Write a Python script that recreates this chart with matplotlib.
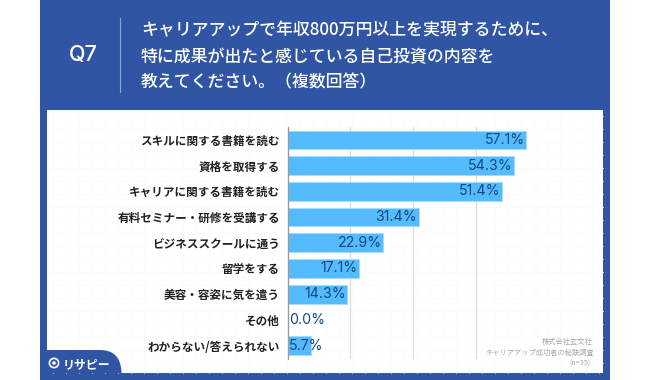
import matplotlib
matplotlib.use('Agg')
import matplotlib.pyplot as plt
from matplotlib.patches import Rectangle, PathPatch, Circle
from matplotlib.path import Path

plt.rcParams['font.family'] = ['Noto Sans CJK JP', 'DejaVu Sans']

categories = ['スキルに関する書籍を読む', '資格を取得する', 'キャリアに関する書籍を読む',
              '有料セミナー・研修を受講する', 'ビジネススクールに通う', '留学をする',
              '美容・容姿に気を遣う', 'その他', 'わからない/答えられない']
values = [57.1, 54.3, 51.4, 31.4, 22.9, 17.1, 14.3, 0.0, 5.7]
grid_ticks = [0, 15, 30, 45, 60]
title_lines = ['キャリアアップで年収800万円以上を実現するために、',
               '特に成果が出たと感じている自己投資の内容を',
               '教えてください。（複数回答）']
source_lines = ['株式会社玄文社', 'キャリアアップ成功者の秘訣調査', '(n=35)']

W, H = 650, 380
BLUE = '#2f55a4'

fig = plt.figure(figsize=(W / 100, H / 100), dpi=100, facecolor='white')

# page furniture, drawn in pixel coordinates
bg = fig.add_axes([0, 0, 1, 1], zorder=0)
bg.set_xlim(0, W)
bg.set_ylim(H, 0)
bg.axis('off')
bg.add_patch(Rectangle((40, 0), 570, 380, fc=BLUE, ec='none'))
bg.add_patch(Rectangle((47, 110), 556, 263, fc='white', ec='none'))

# faint graph paper in the white panel
for x in range(53, 603, 13):
    bg.plot([x, x], [110, 373], color='#fafafa', lw=0.5, zorder=1)
for y in range(116, 373, 13):
    bg.plot([47, 603], [y, y], color='#fafafa', lw=0.5, zorder=1)

bg.plot([119.5, 119.5], [18, 92], color='#8fa5d2', lw=0.8)
bg.text(83, 55, 'Q7', color='white', fontsize=15.5, weight='medium', ha='center', va='center',
        family=['Inter', 'DejaVu Sans'])
for i, y in enumerate([30, 57, 82]):
    bg.text(141, y, title_lines[i], color='white', fontsize=12.2, weight='medium', ha='left', va='center')

# logo tab in the bottom left corner
verts = [(47, 350), (100, 350), (121, 350), (121.5, 373), (47, 373), (47, 350)]
codes = [Path.MOVETO, Path.LINETO, Path.CURVE3, Path.CURVE3, Path.LINETO, Path.CLOSEPOLY]
bg.add_patch(PathPatch(Path(verts, codes), fc=BLUE, ec='none', zorder=2))
bg.add_patch(Circle((54, 363), 4.6, fc='none', ec='white', lw=1.2, zorder=3))
bg.add_patch(Circle((54, 363), 1.8, fc='white', ec='none', zorder=3))
bg.text(63, 365, 'リサピー', color='white', fontsize=8.6, weight='bold', ha='left', va='center', zorder=3)

for text, x, y in zip(source_lines, [593, 594, 590], [342, 353, 364]):
    bg.text(x, y, text, color='#a8a8a8', fontsize=5.2, ha='right', va='center', zorder=3)

# chart
ax = fig.add_axes([287.5 / W, 1 - 358.6 / H, (538.3 - 287.5) / W, (358.6 - 126.9) / H], zorder=1)
ax.patch.set_alpha(0)
pos = list(range(len(categories)))
ax.barh(pos, values, height=0.72, color='#54bbff', edgecolor='#a5dcff', linewidth=0.6, zorder=2)
ax.set_xlim(0, 60)
ax.set_ylim(len(categories) - 0.5, -0.5)
ax.set_xticks(grid_ticks)
ax.tick_params(axis='x', length=0, labelbottom=False)
ax.grid(axis='x', color='#dcdcdc', lw=0.9, zorder=1)
ax.set_axisbelow(True)
for s in ['top', 'right', 'bottom']:
    ax.spines[s].set_visible(False)
ax.spines['left'].set_color('#9a9a9a')
ax.spines['left'].set_linewidth(0.9)
ax.spines['left'].set_zorder(4)
ax.set_yticks(pos)
ax.set_yticklabels(categories, fontsize=8.35, weight='bold', color='#222222')
ax.tick_params(axis='y', length=0, pad=5.5)

for p, v in zip(pos, values):
    label = f'{v:.1f}%'
    x, ha = (v - 0.4, 'right') if v > 10 else (0.4, 'left')
    ax.text(x, p, label, color='#0e4a7c', fontsize=10.2, ha=ha, va='center', zorder=3,
            family=['Inter', 'DejaVu Sans'])

fig.savefig('out.png', dpi=100)
